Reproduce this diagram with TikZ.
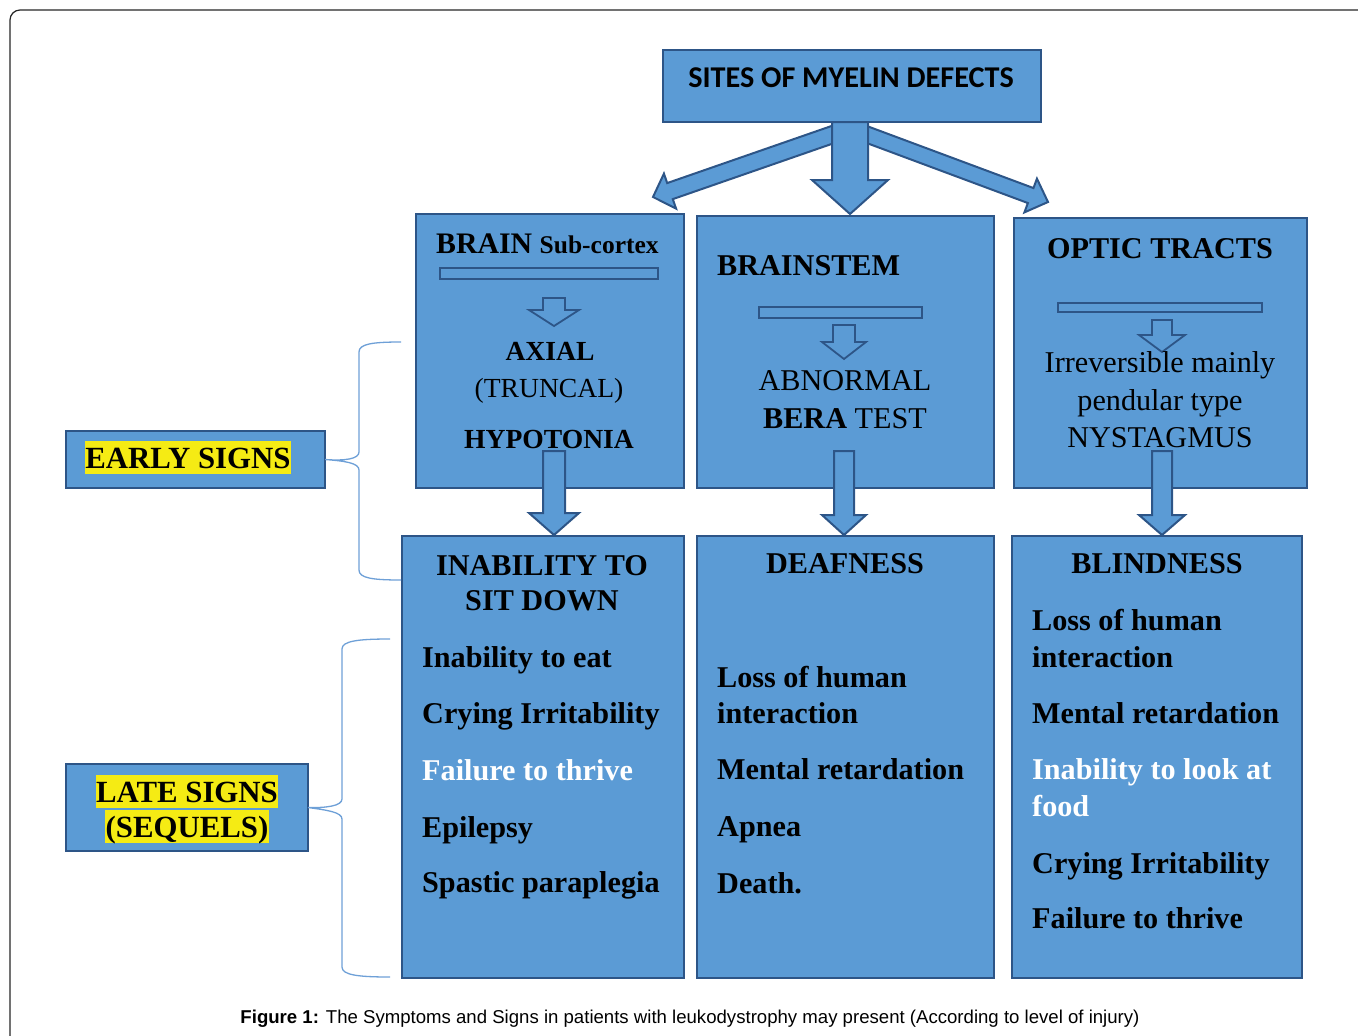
\documentclass[tikz,border=0pt]{standalone}
\usepackage{fontspec}
\setmainfont{Liberation Serif}
\newfontfamily\calibrifont{Carlito}
\newfontfamily\arialfont{Liberation Sans}
\usetikzlibrary{calc}
\definecolor{boxblue}{RGB}{91,155,213}
\definecolor{boxedge}{RGB}{45,85,135}
\definecolor{bracecol}{RGB}{110,160,215}
\definecolor{hlyellow}{RGB}{245,235,20}
\newcommand{\hfs}{\fontsize{30.2}{36}\selectfont}
\newcommand{\bfs}{\fontsize{27.6}{33}\selectfont}
\newcommand{\blockarr}[6]{%
  \coordinate (ba-s) at (#1);
  \coordinate (ba-t) at (#2);
  \coordinate (ba-h) at ($(ba-t)!#5!(ba-s)$);
  \draw[#6] ($(ba-s)!#3!90:(ba-t)$) -- ($(ba-h)!#3!-90:(ba-s)$) -- ($(ba-h)!#4!-90:(ba-s)$) -- (ba-t) -- ($(ba-h)!#4!90:(ba-s)$) -- ($(ba-h)!#3!90:(ba-s)$) -- ($(ba-s)!#3!-90:(ba-t)$) -- cycle;
}
\tikzset{
  box/.style={draw=boxedge, fill=boxblue, line width=2.5pt, inner sep=0, outer sep=0, anchor=north west},
  bigarrow/.style={draw=boxedge, fill=boxblue, line width=2pt, line join=miter},
  smallarrow/.style={draw=boxedge, fill=boxblue, line width=1.8pt, line join=miter},
  bar/.style={draw=boxedge, fill=boxblue, line width=1.8pt},
  txt/.style={inner sep=0, anchor=base, font=\hfs},
  item/.style={inner sep=0, anchor=base west, font=\hfs\bfseries},
  hl/.style={fill=hlyellow, inner xsep=0.5pt, inner ysep=0, text height=27pt, text depth=6pt, anchor=base, font=\fontsize{30.8}{36}\selectfont\bfseries},
  bracestyle/.style={draw=bracecol, line width=1.3pt},
}
\begin{document}
\begin{tikzpicture}[x=1pt,y=-1pt]
\useasboundingbox (0,0) rectangle (1358,1036);
% outer frame
\draw[black!85, line width=1.2pt, rounded corners=10pt] (10,1045) -- (10,10) -- (1370,10);

% boxes
\node[box, minimum width=378pt, minimum height=72pt] (top) at (663,50) {};
\node[box, minimum width=268pt, minimum height=274pt] (brain) at (416,214) {};
\node[box, minimum width=297pt, minimum height=272pt] (stem) at (697,216) {};
\node[box, minimum width=293pt, minimum height=270pt] (optic) at (1014,218) {};
\node[box, minimum width=282pt, minimum height=442pt] (sit) at (402,536) {};
\node[box, minimum width=297pt, minimum height=442pt] (deaf) at (697,536) {};
\node[box, minimum width=290pt, minimum height=442pt] (blind) at (1012,536) {};
\node[box, minimum width=259pt, minimum height=57pt] (early) at (66,431) {};
\node[box, minimum width=242pt, minimum height=87pt] (late) at (66,764) {};

% top title
\node[inner sep=0, anchor=base, font=\calibrifont\bfseries\fontsize{30.2}{34}\selectfont] (toptxt) at (851,87) {SITES OF MYELIN DEFECTS};

% arrows from top box
\coordinate (aLs) at (843,131); \coordinate (aLt) at (653,197);
\coordinate (aCs) at (850,122); \coordinate (aCt) at (850,214);
\coordinate (aRs) at (860,132); \coordinate (aRt) at (1048,202);
\blockarr{aLs}{aLt}{8.5pt}{18.5pt}{18pt}{bigarrow}
\blockarr{aRs}{aRt}{8pt}{18pt}{18.5pt}{bigarrow}
\blockarr{aCs}{aCt}{18pt}{38pt}{34pt}{bigarrow}

% brain box contents
\node[inner sep=0, anchor=base west, font=\fontsize{29.8}{36}\selectfont\bfseries] (brainT) at (436,253) {BRAIN {\fontsize{25.5}{30}\selectfont Sub-cortex}};
\draw[bar] (440,268) rectangle (658,279);
\coordinate (sb1) at (554,298); \coordinate (tb1) at (554,326);
\blockarr{sb1}{tb1}{11pt}{25pt}{16pt}{smallarrow}
\node[txt, font=\bfs\bfseries] (axial) at (550,360) {AXIAL};
\node[txt, font=\bfs] (truncal) at (549,397) {(TRUNCAL)};
\node[txt, font=\bfs\bfseries] (hypo) at (549,448) {HYPOTONIA};

% brainstem contents
\node[item] (stemT) at (717,275) {BRAINSTEM};
\draw[bar] (759,307) rectangle (922,318);
\coordinate (sb2) at (844,325); \coordinate (tb2) at (844,359);
\blockarr{sb2}{tb2}{11pt}{22pt}{17pt}{smallarrow}
\node[txt] (abn) at (845,390) {ABNORMAL};
\node[txt] (bera) at (845,428) {\textbf{BERA} TEST};

% optic contents
\node[txt, font=\hfs\bfseries] (opticT) at (1160,258) {OPTIC TRACTS};
\draw[bar] (1058,303) rectangle (1262,312);
\coordinate (sb3) at (1162,320); \coordinate (tb3) at (1162,352);
\blockarr{sb3}{tb3}{10pt}{23pt}{17pt}{smallarrow}
\node[txt] (irr) at (1160,372) {Irreversible mainly};
\node[txt] (pend) at (1160,410) {pendular type};
\node[txt] (nyst) at (1160,447) {NYSTAGMUS};

% down arrows
\coordinate (d1s) at (554,451); \coordinate (d1t) at (554,535);
\coordinate (d2s) at (844,451); \coordinate (d2t) at (844,535);
\coordinate (d3s) at (1162,451); \coordinate (d3t) at (1162,535);
\blockarr{d1s}{d1t}{11pt}{25pt}{22pt}{bigarrow}
\blockarr{d2s}{d2t}{10pt}{22pt}{20pt}{bigarrow}
\blockarr{d3s}{d3t}{10pt}{23pt}{20pt}{bigarrow}

% sit down box
\node[txt, font=\hfs\bfseries] (sitT1) at (542,575) {INABILITY TO};
\node[txt, font=\hfs\bfseries] (sitT2) at (542,610) {SIT DOWN};
\node[item] (s1) at (422,667) {Inability to eat};
\node[item] (s2) at (422,723) {Crying Irritability};
\node[item, text=white] (s3) at (422,780) {Failure to thrive};
\node[item] (s4) at (422,837) {Epilepsy};
\node[item] (s5) at (422,892) {Spastic paraplegia};

% deafness box
\node[txt, font=\hfs\bfseries] (deafT) at (845,573) {DEAFNESS};
\node[item] (d1) at (717,687) {Loss of human};
\node[item] (d2) at (717,723) {interaction};
\node[item] (d3) at (717,779) {Mental retardation};
\node[item] (d4) at (717,836) {Apnea};
\node[item] (d5) at (717,893) {Death.};

% blindness box
\node[txt, font=\hfs\bfseries] (blindT) at (1157,573) {BLINDNESS};
\node[item] (b1) at (1032,630) {Loss of human};
\node[item] (b2) at (1032,667) {interaction};
\node[item] (b3) at (1032,723) {Mental retardation};
\node[item, text=white] (b4) at (1032,779) {Inability to look at};
\node[item, text=white] (b5) at (1032,816) {food};
\node[item] (b6) at (1032,873) {Crying Irritability};
\node[item] (b7) at (1032,928) {Failure to thrive};

% side labels
\node[hl] (earlyT) at (188,468) {EARLY SIGNS};
\node[hl] (lateT1) at (187,802) {LATE SIGNS};
\node[hl] (lateT2) at (187,837) {(SEQUELS)};

% braces
\coordinate (ebTop) at (401,342); \coordinate (ebTip) at (early.east); \coordinate (ebBot) at (401,580);
\draw[bracestyle] (ebTop) .. controls (372,342) and (359,344) .. (359,352) -- (359,452) .. controls (359,459) and (345,461) .. (ebTip) .. controls (345,461) and (359,463) .. (359,470) -- (359,570) .. controls (359,578) and (372,580) .. (ebBot);
\coordinate (lbTop) at (390,639); \coordinate (lbTip) at (late.east); \coordinate (lbBot) at (390,977);
\draw[bracestyle] (lbTop) .. controls (358,639) and (342,641) .. (342,649) -- (342,799) .. controls (342,806) and (326,808) .. (lbTip) .. controls (326,810) and (342,812) .. (342,819) -- (342,967) .. controls (342,975) and (358,977) .. (lbBot);

% caption
\node[inner sep=0, anchor=base, font=\arialfont\fontsize{18.6}{22}\selectfont] (cap) at (690,1023) {\textbf{Figure 1:} The Symptoms and Signs in patients with leukodystrophy may present (According to level of injury)};
\end{tikzpicture}
\end{document}
